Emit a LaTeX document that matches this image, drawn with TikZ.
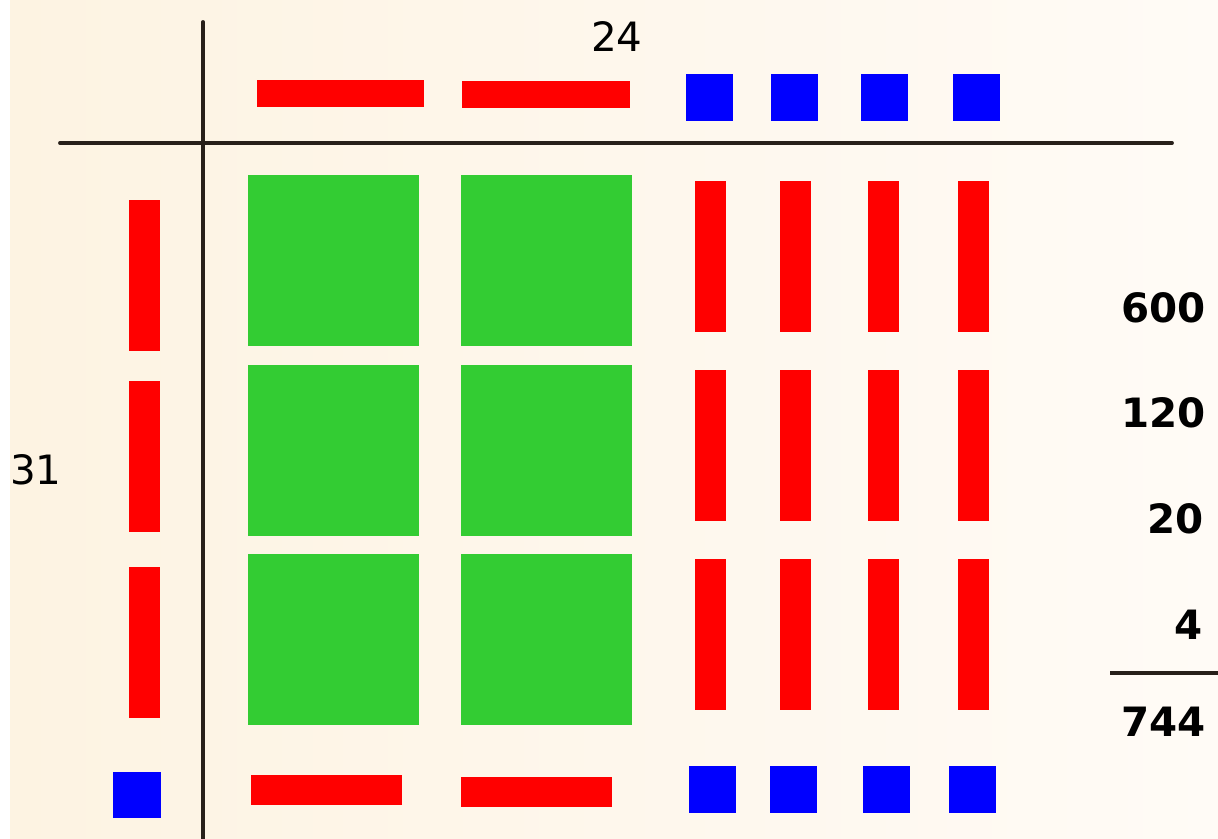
\documentclass[tikz,border=0pt]{standalone}
\usepackage{fontspec}
\setmainfont{DejaVu Sans}
\usetikzlibrary{positioning}
\definecolor{PaperCream}{RGB}{253,243,226}
\definecolor{PaperWhite}{RGB}{255,251,246}
\definecolor{RodRed}{RGB}{255,0,0}
\definecolor{FlatGreen}{RGB}{51,204,51}
\definecolor{UnitBlue}{RGB}{0,0,255}
\definecolor{AxisInk}{RGB}{40,32,26}

\begin{document}
\begin{tikzpicture}[
  x={(0.02cm,0)}, y={(0,-0.02cm)},
  rod/.style={fill=RodRed},
  flat/.style={fill=FlatGreen},
  unit/.style={fill=UnitBlue},
  axis/.style={draw=AxisInk, line width=2.2pt, line cap=round},
  factor/.style={font=\fontsize{23}{26}\selectfont, inner sep=0pt},
  partial/.style={font=\fontsize{23}{26}\selectfont\bfseries, inner sep=0pt, anchor=east},
]
\useasboundingbox (0,0) rectangle (1218,839);
\fill[white] (0,0) rectangle (1218,839);
\shade[left color=PaperCream, right color=PaperWhite] (10,0) rectangle (1218,839);

% factors along the top
\fill[rod] (257,80) rectangle (424,107);
\fill[rod] (462,81) rectangle (630,108);
\foreach \x in {686,771,861,953} \fill[unit] (\x,74) rectangle +(47,47);

% factors down the side
\foreach \y in {200,381,567} \fill[rod] (129,\y) rectangle +(31,151);
\fill[unit] (113,772) rectangle +(48,46);

% hundreds
\foreach \x in {248,461}
  \foreach \y in {175,365,554}
    \fill[flat] (\x,\y) rectangle +(171,171);

% tens from 4 x 30
\foreach \x in {695,780,868,958}
  \foreach \y in {181,370,559}
    \fill[rod] (\x,\y) rectangle +(31,151);

% tens and ones from 1 x 24
\fill[rod] (251,775) rectangle (402,805);
\fill[rod] (461,777) rectangle (612,807);
\foreach \x in {689,770,863,949} \fill[unit] (\x,766) rectangle +(47,47);

\draw[axis] (203,22) -- (203,839);
\draw[axis] (60,143) -- (1172,143);

\node[factor] (top) at (617,37) {24};
\node[factor] (side) at (36,470) {31};

\node[partial] (p600) at (1206,308) {600};
\node[partial] (p120) at (1206,413) {120};
\node[partial] (p20) at (1204,519) {20};
\node[partial] (p4) at (1203,625) {4};
\draw[AxisInk, line width=1.8pt] (1110,673) -- (1218,673);
\node[partial] (total) at (1206,722) {744};
\end{tikzpicture}
\end{document}
